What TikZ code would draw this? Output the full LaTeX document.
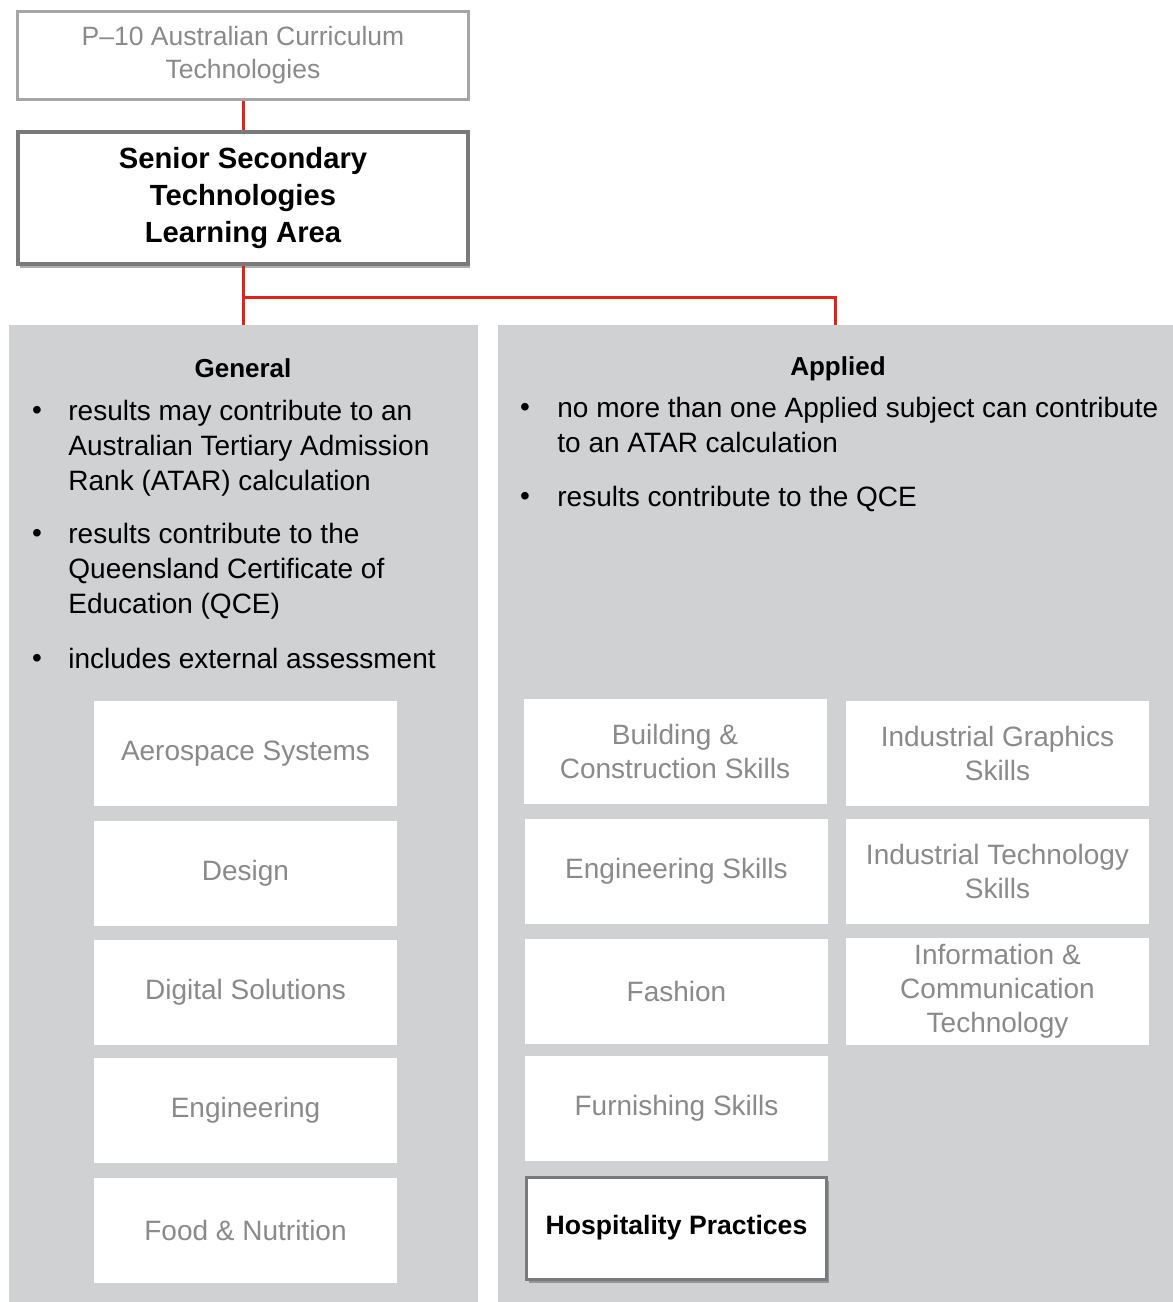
\documentclass[tikz,border=0pt]{standalone}
\usepackage{fontspec}
\setmainfont{Liberation Sans}
\usepackage{xcolor}
\usetikzlibrary{shapes,shadows,positioning}
\definecolor{panelgray}{RGB}{208,209,211}
\definecolor{subjecttext}{RGB}{138,138,138}
\definecolor{topgray}{RGB}{166,166,166}
\definecolor{framegray}{RGB}{122,122,125}
\definecolor{linkred}{RGB}{226,35,26}

\begin{document}
\begin{tikzpicture}
      [x=0.5pt, y=-0.5pt,
      link/.style={draw=linkred, line width=1.5pt},
      panel style/.style={fill=panelgray, draw=none, inner sep=0, minimum height=488.5pt},
      top style/.style={draw=topgray, line width=1.5pt, fill=white, align=center, minimum width=225.5pt, minimum height=44pt, text=subjecttext, font=\fontsize{13.25}{16.5}\selectfont},
      main style/.style={draw=framegray, line width=2pt, fill=white, align=center, minimum width=225pt, minimum height=66pt, font=\bfseries\fontsize{14.6}{18.5}\selectfont, drop shadow={shadow xshift=1pt, shadow yshift=-2pt, opacity=0.45, fill=black!70}},
      subject style/.style={fill=white, draw=none, align=center, minimum width=151.5pt, minimum height=52.5pt, text=subjecttext, font=\fontsize{14}{17}\selectfont},
      chosen style/.style={subject style, draw=framegray, line width=1.5pt, minimum width=150pt, minimum height=51pt, text=black, font=\bfseries\fontsize{13.3}{16}\selectfont, drop shadow={shadow xshift=1pt, shadow yshift=-2pt, opacity=0.45, fill=black!70}},
      head style/.style={anchor=base, inner sep=0, font=\bfseries\fontsize{13}{16}\selectfont},
      item style/.style={anchor=north west, inner sep=0, align=left, font=\fontsize{14}{17.5}\selectfont},
      dot style/.style={anchor=base, inner sep=0, font=\fontsize{14}{17.5}\selectfont}
      ]
    \useasboundingbox (0,0) rectangle (1173,1302);

    % panels
    \node[panel style, minimum width=234.5pt] (general) at (243,813.5) {};
    \node[panel style, minimum width=337.5pt] (applied) at (835.5,813.5) {};

    % top of the chart
    \node[top style] (p10) at (243,55) {P--10 Australian Curriculum\\Technologies};
    \node[main style] (senior) at (243,198) {Senior Secondary\\Technologies\\Learning Area};
    \coordinate (split) at (243,297);

    \draw[link] (p10) -- (senior);
    \draw[link] (senior) -- (split) -- (general);
    \draw[link] (split) -| (applied.north);

    % General
    \node[head style] (generalhead) at (243,377) {General};
    \node[dot style] at (37,419) {\textbullet};
    \node[item style] (g1) at (68,400) {results may contribute to an\\Australian Tertiary Admission\\Rank (ATAR) calculation};
    \node[dot style] at (37,542) {\textbullet};
    \node[item style] (g2) at (68,523) {results contribute to the\\Queensland Certificate of\\Education (QCE)};
    \node[dot style] at (37,667) {\textbullet};
    \node[item style] (g3) at (68,648) {includes external assessment};

    \node[subject style] (aero) at (245.5,753.5) {Aerospace Systems};
    \node[subject style] (design) at (245.5,873.5) {Design};
    \node[subject style] (digital) at (245.5,992.5) {Digital Solutions};
    \node[subject style] (engineering) at (245.5,1110.5) {Engineering};
    \node[subject style] (food) at (245.5,1230.5) {Food \& Nutrition};

    % Applied
    \node[head style] (appliedhead) at (838,375) {Applied};
    \node[dot style] at (525,416) {\textbullet};
    \node[item style] (a1) at (557,397) {no more than one Applied subject can contribute\\to an ATAR calculation};
    \node[dot style] at (525,505) {\textbullet};
    \node[item style] (a2) at (557,486) {results contribute to the QCE};

    \node[subject style] (building) at (675,751.5) {Building \&\\Construction Skills};
    \node[subject style] (engskills) at (676.5,871.5) {Engineering Skills};
    \node[subject style] (fashion) at (676.5,991.5) {Fashion};
    \node[subject style] (furnishing) at (676.5,1108.5) {Furnishing Skills};
    \node[chosen style] (hospitality) at (676.5,1228) {Hospitality Practices};

    \node[subject style] (graphics) at (997.5,753.5) {Industrial Graphics\\Skills};
    \node[subject style] (indtech) at (997.5,871.5) {Industrial Technology\\Skills};
    \node[subject style] (ict) at (997.5,991.5) {Information \&\\Communication\\Technology};
    \end{tikzpicture}
\end{document}
